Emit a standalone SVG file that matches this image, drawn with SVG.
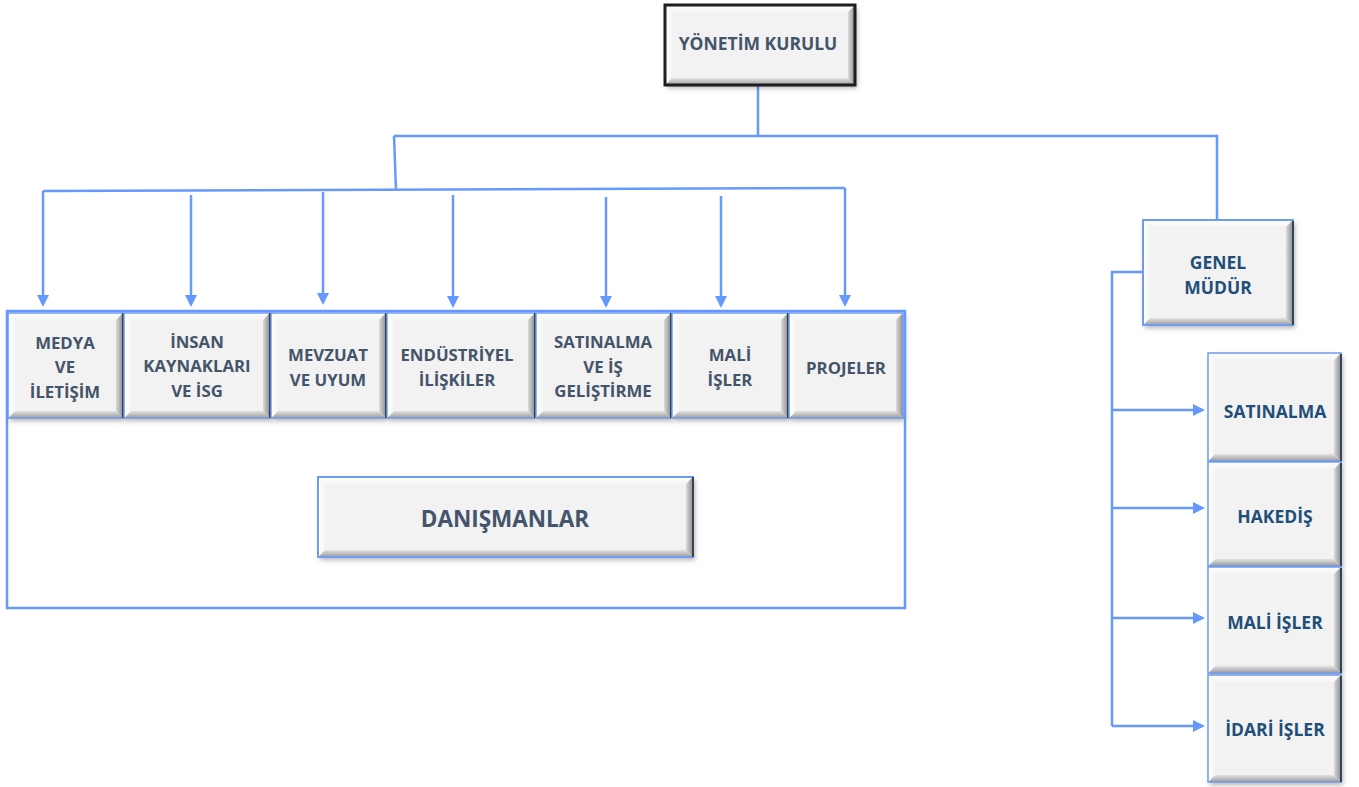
<svg xmlns="http://www.w3.org/2000/svg" width="1359" height="787" viewBox="0 0 1359 787">
<defs>
<style>
.face{fill:#f2f2f2;filter:url(#sh)}
.bt{fill:url(#gTop)}
.bb{fill:url(#gBot)}
.bl{fill:url(#gLeft)}
.br{fill:url(#gRight)}
.ob{fill:none;stroke:#6f9cf0;stroke-width:1.5}
.od{fill:none;stroke:#1e1e1e;stroke-width:3}
.re{stroke:#34425a;stroke-width:2}
.t{font-family:"Open Sans","Noto Sans","Liberation Sans",sans-serif;font-weight:700;font-size:16.8px;fill:#44546a;text-anchor:middle}
.tb{fill:#1f4e79;font-size:17.5px}
.c{fill:none;stroke:#6699ff;stroke-width:2.5}
.ca{fill:none;stroke:#6699ff;stroke-width:2.5;marker-end:url(#ah)}
</style>
<filter id="sh" x="-10%" y="-10%" width="125%" height="130%">
<feDropShadow dx="2" dy="3" stdDeviation="2.5" flood-color="#000" flood-opacity="0.3"/>
</filter>
<linearGradient id="gTop" x1="0" y1="0" x2="0" y2="1"><stop offset="0" stop-color="#ffffff"/><stop offset="1" stop-color="#f5f5f5"/></linearGradient>
<linearGradient id="gBot" x1="0" y1="0" x2="0" y2="1"><stop offset="0" stop-color="#e2e2e2"/><stop offset="1" stop-color="#9c9c9c"/></linearGradient>
<linearGradient id="gLeft" x1="0" y1="0" x2="1" y2="0"><stop offset="0" stop-color="#ffffff"/><stop offset="1" stop-color="#f5f5f5"/></linearGradient>
<linearGradient id="gRight" x1="0" y1="0" x2="1" y2="0"><stop offset="0" stop-color="#dadada"/><stop offset="1" stop-color="#8e8e8e"/></linearGradient>
<marker id="ah" markerUnits="userSpaceOnUse" markerWidth="12" markerHeight="12" viewBox="0 0 12 12" refX="9" refY="6" orient="auto">
<path d="M0,0 L12,6 L0,12 z" fill="#6699ff"/>
</marker>
</defs>
<rect width="1359" height="787" fill="#ffffff"/>

<g id="connectors">
<path class="c" d="M758,85 V136 M394,136 H1217 V220 M394,136 L396,190 M43,191 L845,188"/>
<path class="ca" d="M43,191 V304"/>
<path class="ca" d="M191,195 V304"/>
<path class="ca" d="M323,192 V302"/>
<path class="ca" d="M453,195 V305"/>
<path class="ca" d="M606,197 V305"/>
<path class="ca" d="M721,196 V305"/>
<path class="ca" d="M845,188 V304"/>
<path class="c" d="M1143,272 H1112 V726"/>
<path class="ca" d="M1112,410 H1202"/>
<path class="ca" d="M1112,508 H1202"/>
<path class="ca" d="M1112,618 H1202"/>
<path class="ca" d="M1112,726 H1202"/>
</g>

<g id="yonetim-kurulu">
<rect class="face" x="665" y="5" width="190" height="80"/>
<polygon class="bt" points="665,5 855,5 848,12 672,12"/>
<polygon class="bb" points="665,85 855,85 848,78 672,78"/>
<polygon class="bl" points="665,5 672,12 672,78 665,85"/>
<polygon class="br" points="855,5 848,12 848,78 855,85"/>
<rect class="od" x="665" y="5" width="190" height="80"/>
<text class="t" x="758" y="50" style="font-size:17.5px">YÖNETİM KURULU</text>
</g>

<g id="medya">
<rect class="face" x="8" y="313" width="115" height="105"/>
<polygon class="bt" points="8,313 123,313 116,320 15,320"/>
<polygon class="bb" points="8,418 123,418 116,411 15,411"/>
<polygon class="bl" points="8,313 15,320 15,411 8,418"/>
<polygon class="br" points="123,313 116,320 116,411 123,418"/>
<rect class="ob" x="8" y="313" width="115" height="105"/>
<line class="re" x1="123" y1="313" x2="123" y2="418"/>
<text class="t" x="65" y="349">MEDYA</text>
<text class="t" x="65" y="373">VE</text>
<text class="t" x="65" y="398">İLETİŞİM</text>
</g>

<g id="insan-kaynaklari">
<rect class="face" x="124" y="313" width="146" height="105"/>
<polygon class="bt" points="124,313 270,313 263,320 131,320"/>
<polygon class="bb" points="124,418 270,418 263,411 131,411"/>
<polygon class="bl" points="124,313 131,320 131,411 124,418"/>
<polygon class="br" points="270,313 263,320 263,411 270,418"/>
<rect class="ob" x="124" y="313" width="146" height="105"/>
<line class="re" x1="270" y1="313" x2="270" y2="418"/>
<text class="t" x="197" y="348">İNSAN</text>
<text class="t" x="197" y="372">KAYNAKLARI</text>
<text class="t" x="197" y="397">VE İSG</text>
</g>

<g id="mevzuat">
<rect class="face" x="271" y="313" width="115" height="105"/>
<polygon class="bt" points="271,313 386,313 379,320 278,320"/>
<polygon class="bb" points="271,418 386,418 379,411 278,411"/>
<polygon class="bl" points="271,313 278,320 278,411 271,418"/>
<polygon class="br" points="386,313 379,320 379,411 386,418"/>
<rect class="ob" x="271" y="313" width="115" height="105"/>
<line class="re" x1="386" y1="313" x2="386" y2="418"/>
<text class="t" x="328" y="361">MEVZUAT</text>
<text class="t" x="328" y="386">VE UYUM</text>
</g>

<g id="endustriyel">
<rect class="face" x="387" y="313" width="148" height="105"/>
<polygon class="bt" points="387,313 535,313 528,320 394,320"/>
<polygon class="bb" points="387,418 535,418 528,411 394,411"/>
<polygon class="bl" points="387,313 394,320 394,411 387,418"/>
<polygon class="br" points="535,313 528,320 528,411 535,418"/>
<rect class="ob" x="387" y="313" width="148" height="105"/>
<line class="re" x1="535" y1="313" x2="535" y2="418"/>
<text class="t" x="457" y="361">ENDÜSTRİYEL</text>
<text class="t" x="457" y="386">İLİŞKİLER</text>
</g>

<g id="satinalma-is-gelistirme">
<rect class="face" x="536" y="313" width="135" height="105"/>
<polygon class="bt" points="536,313 671,313 664,320 543,320"/>
<polygon class="bb" points="536,418 671,418 664,411 543,411"/>
<polygon class="bl" points="536,313 543,320 543,411 536,418"/>
<polygon class="br" points="671,313 664,320 664,411 671,418"/>
<rect class="ob" x="536" y="313" width="135" height="105"/>
<line class="re" x1="671" y1="313" x2="671" y2="418"/>
<text class="t" x="603" y="348">SATINALMA</text>
<text class="t" x="603" y="373">VE İŞ</text>
<text class="t" x="603" y="397">GELİŞTİRME</text>
</g>

<g id="mali-isler">
<rect class="face" x="672" y="313" width="116" height="105"/>
<polygon class="bt" points="672,313 788,313 781,320 679,320"/>
<polygon class="bb" points="672,418 788,418 781,411 679,411"/>
<polygon class="bl" points="672,313 679,320 679,411 672,418"/>
<polygon class="br" points="788,313 781,320 781,411 788,418"/>
<rect class="ob" x="672" y="313" width="116" height="105"/>
<line class="re" x1="788" y1="313" x2="788" y2="418"/>
<text class="t" x="730" y="361">MALİ</text>
<text class="t" x="730" y="386">İŞLER</text>
</g>

<g id="projeler">
<rect class="face" x="789" y="313" width="114" height="105"/>
<polygon class="bt" points="789,313 903,313 896,320 796,320"/>
<polygon class="bb" points="789,418 903,418 896,411 796,411"/>
<polygon class="bl" points="789,313 796,320 796,411 789,418"/>
<polygon class="br" points="903,313 896,320 896,411 903,418"/>
<rect class="ob" x="789" y="313" width="114" height="105"/>
<text class="t" x="846" y="374">PROJELER</text>
</g>

<g id="container">
<rect x="7" y="311" width="898" height="297" fill="none" stroke="#6699ff" stroke-width="2.5"/>
</g>

<g id="danismanlar">
<rect class="face" x="318" y="477" width="375" height="80"/>
<polygon class="bt" points="318,477 693,477 686,484 325,484"/>
<polygon class="bb" points="318,557 693,557 686,550 325,550"/>
<polygon class="bl" points="318,477 325,484 325,550 318,557"/>
<polygon class="br" points="693,477 686,484 686,550 693,557"/>
<rect class="ob" x="318" y="477" width="375" height="80" style="stroke-width:2"/>
<line class="re" x1="693" y1="477" x2="693" y2="557"/>
<text class="t" x="505" y="527" style="font-size:22.5px">DANIŞMANLAR</text>
</g>

<g id="genel-mudur">
<rect class="face" x="1143" y="220" width="150" height="105"/>
<polygon class="bt" points="1143,220 1293,220 1286,227 1150,227"/>
<polygon class="bb" points="1143,325 1293,325 1286,318 1150,318"/>
<polygon class="bl" points="1143,220 1150,227 1150,318 1143,325"/>
<polygon class="br" points="1293,220 1286,227 1286,318 1293,325"/>
<rect class="ob" x="1143" y="220" width="150" height="105" style="stroke-width:2"/>
<line class="re" x1="1293" y1="221" x2="1293" y2="325"/>
<text class="t tb" x="1218" y="269">GENEL</text>
<text class="t tb" x="1218" y="294">MÜDÜR</text>
</g>

<g id="satinalma">
<rect class="face" x="1208" y="353" width="133" height="108"/>
<polygon class="bt" points="1208,353 1341,353 1334,360 1215,360"/>
<polygon class="bb" points="1208,461 1341,461 1334,454 1215,454"/>
<polygon class="bl" points="1208,353 1215,360 1215,454 1208,461"/>
<polygon class="br" points="1341,353 1334,360 1334,454 1341,461"/>
<rect class="ob" x="1208" y="353" width="133" height="108"/>
<line class="re" x1="1341" y1="354" x2="1341" y2="461"/>
<text class="t tb" x="1275" y="418">SATINALMA</text>
</g>

<g id="hakedis">
<rect class="face" x="1208" y="462" width="133" height="104"/>
<polygon class="bt" points="1208,462 1341,462 1334,469 1215,469"/>
<polygon class="bb" points="1208,566 1341,566 1334,559 1215,559"/>
<polygon class="bl" points="1208,462 1215,469 1215,559 1208,566"/>
<polygon class="br" points="1341,462 1334,469 1334,559 1341,566"/>
<rect class="ob" x="1208" y="462" width="133" height="104"/>
<line class="re" x1="1341" y1="463" x2="1341" y2="566"/>
<text class="t tb" x="1275" y="523">HAKEDİŞ</text>
</g>

<g id="mali-isler-2">
<rect class="face" x="1208" y="567" width="133" height="106"/>
<polygon class="bt" points="1208,567 1341,567 1334,574 1215,574"/>
<polygon class="bb" points="1208,673 1341,673 1334,666 1215,666"/>
<polygon class="bl" points="1208,567 1215,574 1215,666 1208,673"/>
<polygon class="br" points="1341,567 1334,574 1334,666 1341,673"/>
<rect class="ob" x="1208" y="567" width="133" height="106"/>
<line class="re" x1="1341" y1="568" x2="1341" y2="673"/>
<text class="t tb" x="1275" y="629">MALİ İŞLER</text>
</g>

<g id="idari-isler">
<rect class="face" x="1208" y="675" width="133" height="107"/>
<polygon class="bt" points="1208,675 1341,675 1334,682 1215,682"/>
<polygon class="bb" points="1208,782 1341,782 1334,775 1215,775"/>
<polygon class="bl" points="1208,675 1215,682 1215,775 1208,782"/>
<polygon class="br" points="1341,675 1334,682 1334,775 1341,782"/>
<rect class="ob" x="1208" y="675" width="133" height="107"/>
<line class="re" x1="1341" y1="676" x2="1341" y2="782"/>
<text class="t tb" x="1275" y="736">İDARİ İŞLER</text>
</g>
</svg>
